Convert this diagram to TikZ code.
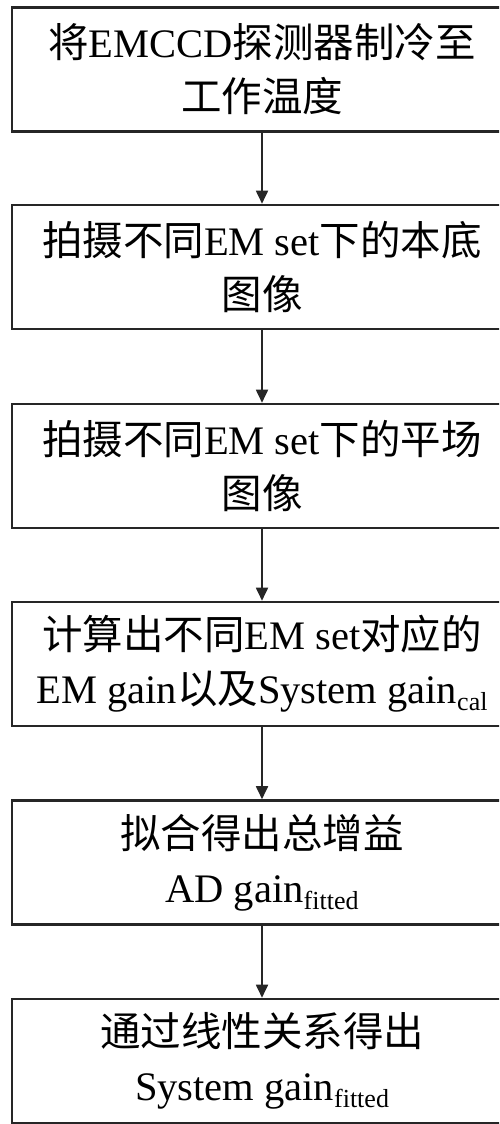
\documentclass[tikz,border=0pt]{standalone}
\usepackage{fontspec}
\setmainfont{Liberation Serif}
\newfontfamily\cjk{Noto Sans CJK SC}
\usetikzlibrary{arrows.meta}
\newcommand\zh[1]{{\cjk #1}}
\newcommand\sub[1]{\raisebox{-7pt}{\fontsize{26}{26}\selectfont #1}}
\tikzset{
  stepbox/.style={draw=black!85, line width=2.6pt, minimum width=500pt, minimum height=124pt,
    inner sep=0pt, align=center, font=\fontsize{40.5}{54}\selectfont},
  flowarrow/.style={draw=black!85, line width=1.8pt, -{Triangle[length=13pt,width=12pt]}}
}
\begin{document}
\begin{tikzpicture}[x=1pt,y=-1pt]
\useasboundingbox (0,0) rectangle (499,1124);
\clip (0,0) rectangle (499,1124);
\fill[white] (0,0) rectangle (499,1124);
\node[stepbox] (b1) at (262,69.5) {\zh{将}EMCCD\zh{探测器制冷至}\\\zh{工作温度}};
\node[stepbox] (b2) at (262,267) {\zh{拍摄不同}EM set\zh{下的本底}\\\zh{图像}};
\node[stepbox] (b3) at (262,466) {\zh{拍摄不同}EM set\zh{下的平场}\\\zh{图像}};
\node[stepbox] (b4) at (262,664) {\zh{计算出不同}EM set\zh{对应的}\\EM gain\zh{以及}System gain\sub{cal}};
\node[stepbox] (b5) at (262,862.5) {\zh{拟合得出总增益}\\AD gain\sub{fitted}};
\node[stepbox] (b6) at (262,1061) {\zh{通过线性关系得出}\\System gain\sub{fitted}};
\draw[flowarrow] (b1) -- (b2);
\draw[flowarrow] (b2) -- (b3);
\draw[flowarrow] (b3) -- (b4);
\draw[flowarrow] (b4) -- (b5);
\draw[flowarrow] (b5) -- (b6);
\end{tikzpicture}
\end{document}
